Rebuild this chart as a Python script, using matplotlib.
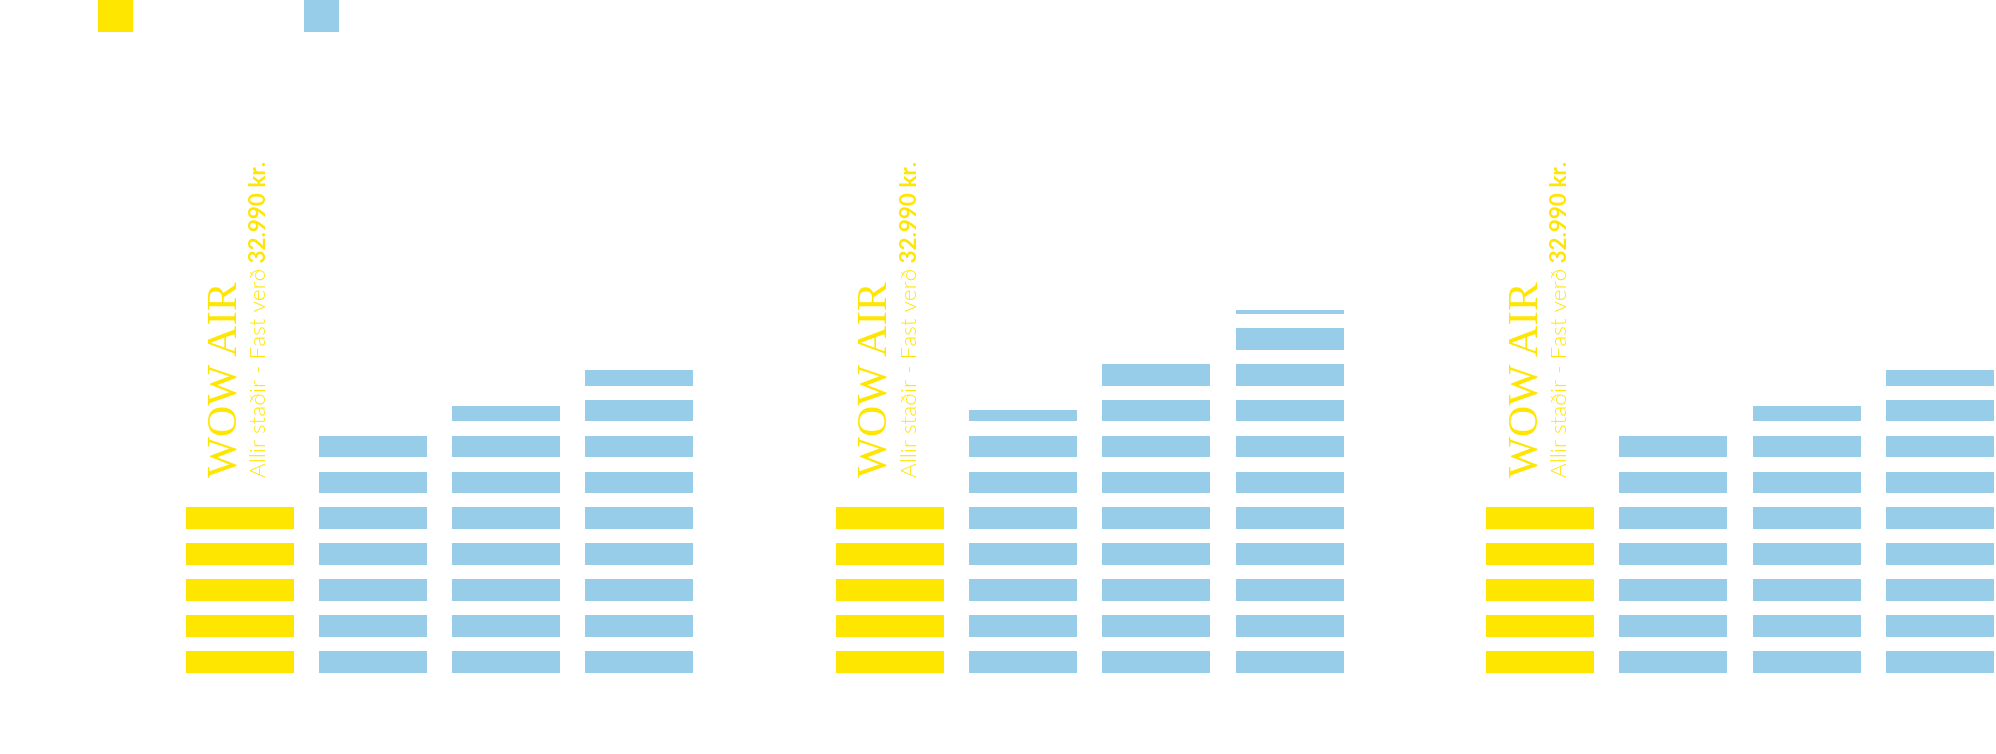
import numpy as np
import matplotlib.pyplot as plt
from matplotlib.patches import Rectangle

# Colours
yellow = '#FFE600'
blue = '#97CDE8'

# Data: each panel has the WOW AIR bar followed by three comparison bars
wow_units = [5, 5, 5]
other_units = [
    [7.0, 7.73, 8.71],
    [7.53, 9.0, 10.18],
    [7.0, 7.73, 8.71],
]
title = 'WOW AIR'
subtitle = 'Allir staðir - Fast verð'
price = ' 32.990 kr.'

# Layout (pixels of the 1996x754 canvas)
W, H = 1996, 754
bar_pitch = 133.3      # px between bars in a panel
seg_pitch = 35.9       # px per unit
baseline_px = 672.7    # px from top where the bars start
first_bar_px = 185.5
panel_pitch = 650.25
bar_w = 108 / bar_pitch
seg_h = 21.7 / seg_pitch

fig = plt.figure(figsize=(W / 100, H / 100), dpi=100)
ax = fig.add_axes([0, 0, 1, 1])
ax.set_xlim(0, W / bar_pitch)
ax.set_ylim(-(H - baseline_px) / seg_pitch, baseline_px / seg_pitch)
ax.axis('off')


def draw_bar(x, value, color):
    """ Draw one bar as a stack of unit segments, the last one partial. """
    n = int(np.ceil(value))
    bottoms = np.arange(n)
    heights = np.minimum(1.0, value - bottoms) * seg_h
    ax.bar(np.full(n, x), heights, bar_w, bottom=bottoms, align='edge',
           color=color, linewidth=0)


for g in range(len(wow_units)):
    x0 = (first_bar_px + g * panel_pitch) / bar_pitch
    draw_bar(x0, wow_units[g], yellow)
    for i, v in enumerate(other_units[g]):
        draw_bar(x0 + i + 1, v, blue)

    # rotated labels above the WOW AIR bar
    y_text = wow_units[g] + 0.45
    ax.text(x0 + 51 / bar_pitch, y_text, title, rotation=90, rotation_mode='anchor',
            ha='left', va='baseline', color=yellow, fontsize=31.2,
            family='Liberation Serif')
    t1 = ax.text(x0 + 81 / bar_pitch, y_text, subtitle, rotation=90,
                 rotation_mode='anchor', ha='left', va='baseline', color=yellow,
                 fontsize=16.2, family='Lato', fontweight=300)
    fig.canvas.draw()
    bb = t1.get_window_extent()
    top = ax.transData.inverted().transform((0, bb.y1))[1]
    ax.text(x0 + 81 / bar_pitch, top, price, rotation=90, rotation_mode='anchor',
            ha='left', va='baseline', color=yellow, fontsize=16.2,
            family='Lato', fontweight='bold')

# legend keys at the top
for left, color in [(98, yellow), (304, blue)]:
    fig.add_artist(Rectangle((left / W, 1 - 32.3 / H), 34.5 / W, 32.3 / H,
                             transform=fig.transFigure, color=color, lw=0))

fig.savefig('out.png', dpi=100, facecolor='white')
